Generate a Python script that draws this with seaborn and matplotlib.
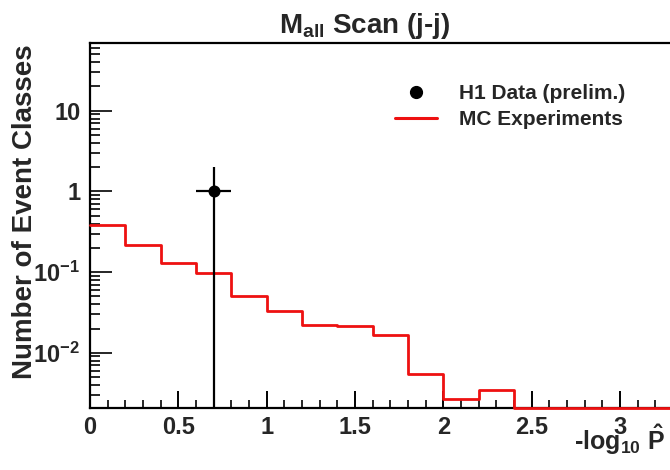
import numpy as np
import pandas as pd
import matplotlib
matplotlib.use("Agg")
import matplotlib.pyplot as plt
import seaborn as sns
from matplotlib.lines import Line2D
from matplotlib.ticker import FixedLocator, FixedFormatter, MultipleLocator, LogLocator, NullFormatter

# ---- data ----
bin_edges = np.round(np.arange(0.0, 4.0001, 0.2), 2)
mc_counts = [0.38, 0.219, 0.128, 0.097, 0.051, 0.0333, 0.0219, 0.0213, 0.0168,
             0.00545, 0.00267, 0.00345, 0, 0, 0, 0, 0, 0, 0, 0]
data_x = [0.7]
data_y = [1.0]
data_xerr = [0.1]
data_yerr_low = [1.0]
data_yerr_high = [1.0]
ytick_vals = [0.01, 0.1, 1, 10]
ytick_labels = [r"$10^{-2}$", r"$10^{-1}$", "1", "10"]
xtick_vals = [0, 0.5, 1, 1.5, 2, 2.5, 3, 3.5]
xtick_labels = ["0", "0.5", "1", "1.5", "2", "2.5", "3", "3.5"]
legend_labels = ["H1 Data (prelim.)", "MC Experiments"]

YMIN, YMAX = 0.00207, 69.7
XMIN, XMAX = 0.0, 4.0

sns.set_style("white")
plt.rcParams["font.family"] = ["Liberation Sans", "DejaVu Sans"]
plt.rcParams["font.weight"] = "bold"
plt.rcParams["mathtext.fontset"] = "custom"
plt.rcParams["mathtext.rm"] = "Liberation Sans:bold"
plt.rcParams["mathtext.bf"] = "Liberation Sans:bold"
plt.rcParams["mathtext.it"] = "Liberation Sans:bold"
plt.rcParams["mathtext.default"] = "rm"

W, H = 670, 470
fig = plt.figure(figsize=(6.7, 4.7), dpi=100)
fig.patch.set_facecolor("white")
px_per_unit = 176.7
ax = fig.add_axes([90 / W, 1 - 408 / H, (XMAX - XMIN) * px_per_unit / W, (408 - 42.7) / H])
ax.set_facecolor("white")

edges = np.asarray(bin_edges, dtype=float)
shown = np.maximum(np.asarray(mc_counts, dtype=float), YMIN)
step_df = pd.DataFrame({"x": edges, "y": np.append(shown, shown[-1])})
sns.lineplot(data=step_df, x="x", y="y", drawstyle="steps-post", color="#ee1111",
             linewidth=2.0, ax=ax, zorder=3, clip_on=False, estimator=None, sort=False)

ax.set_yscale("log")

pt_df = pd.DataFrame({"x": data_x, "y": data_y})
ax.errorbar(data_x, data_y, xerr=data_xerr,
            yerr=[data_yerr_low, data_yerr_high], fmt="none",
            ecolor="black", elinewidth=1.6, capsize=0, zorder=4)
sns.scatterplot(data=pt_df, x="x", y="y", color="black", s=75, edgecolor="black",
                linewidth=0, zorder=5, ax=ax)

ax.set_xlim(XMIN, XMAX)
ax.set_ylim(YMIN, YMAX)
ax.set_xlabel("")
ax.set_ylabel("")

ax.xaxis.set_major_locator(FixedLocator(xtick_vals))
ax.xaxis.set_major_formatter(FixedFormatter(xtick_labels))
ax.xaxis.set_minor_locator(MultipleLocator(0.1))
ax.yaxis.set_major_locator(FixedLocator(ytick_vals))
ax.yaxis.set_major_formatter(FixedFormatter(ytick_labels))
ax.yaxis.set_minor_locator(LogLocator(base=10, subs=np.arange(2, 10)))
ax.yaxis.set_minor_formatter(NullFormatter())

ax.tick_params(axis="x", which="major", direction="in", length=12, width=1.4,
               labelsize=17, pad=6, color="black", bottom=True, top=False)
ax.tick_params(axis="x", which="minor", direction="in", length=6, width=1.4,
               bottom=True, top=False)
ax.tick_params(axis="y", which="major", direction="in", length=15.5, width=1.4,
               labelsize=17, pad=7, left=True, right=False)
ax.tick_params(axis="y", which="minor", direction="in", length=7, width=1.4,
               left=True, right=False)
for lab in ax.get_xticklabels() + ax.get_yticklabels():
    lab.set_fontweight("bold")

for side in ["left", "bottom", "top", "right"]:
    ax.spines[side].set_visible(True)
    ax.spines[side].set_color("black")
    ax.spines[side].set_linewidth(1.6)

# title
fig.text(365 / W, 1 - 33 / H, r"$\mathrm{M}_{\mathrm{all}}$ Scan (j-j)",
         ha="center", va="baseline", fontsize=20, fontweight="bold")
# y label
fig.text(25 / W, 1 - 44 / H, "Number of Event Classes", rotation=90,
         ha="center", va="top", fontsize=20, fontweight="bold")
# x label
fig.text(574 / W, 1 - 450 / H, r"-log$_{\mathrm{10}}$ $\hat{\mathrm{P}}$",
         ha="left", va="baseline", fontsize=18, fontweight="bold")

handles = [Line2D([], [], marker="o", color="black", linestyle="none", markersize=8.5),
           Line2D([], [], color="#ee1111", linewidth=2.2)]
fig.legend(handles, legend_labels, loc="upper left",
           bbox_to_anchor=(395 / W, 1 - 84 / H), bbox_transform=fig.transFigure,
           frameon=False, borderpad=0, borderaxespad=0, handlelength=2.0,
           handletextpad=1.05, labelspacing=0.33,
           prop={"size": 15, "weight": "bold"})

fig.savefig("out.png", dpi=100, facecolor="white")
